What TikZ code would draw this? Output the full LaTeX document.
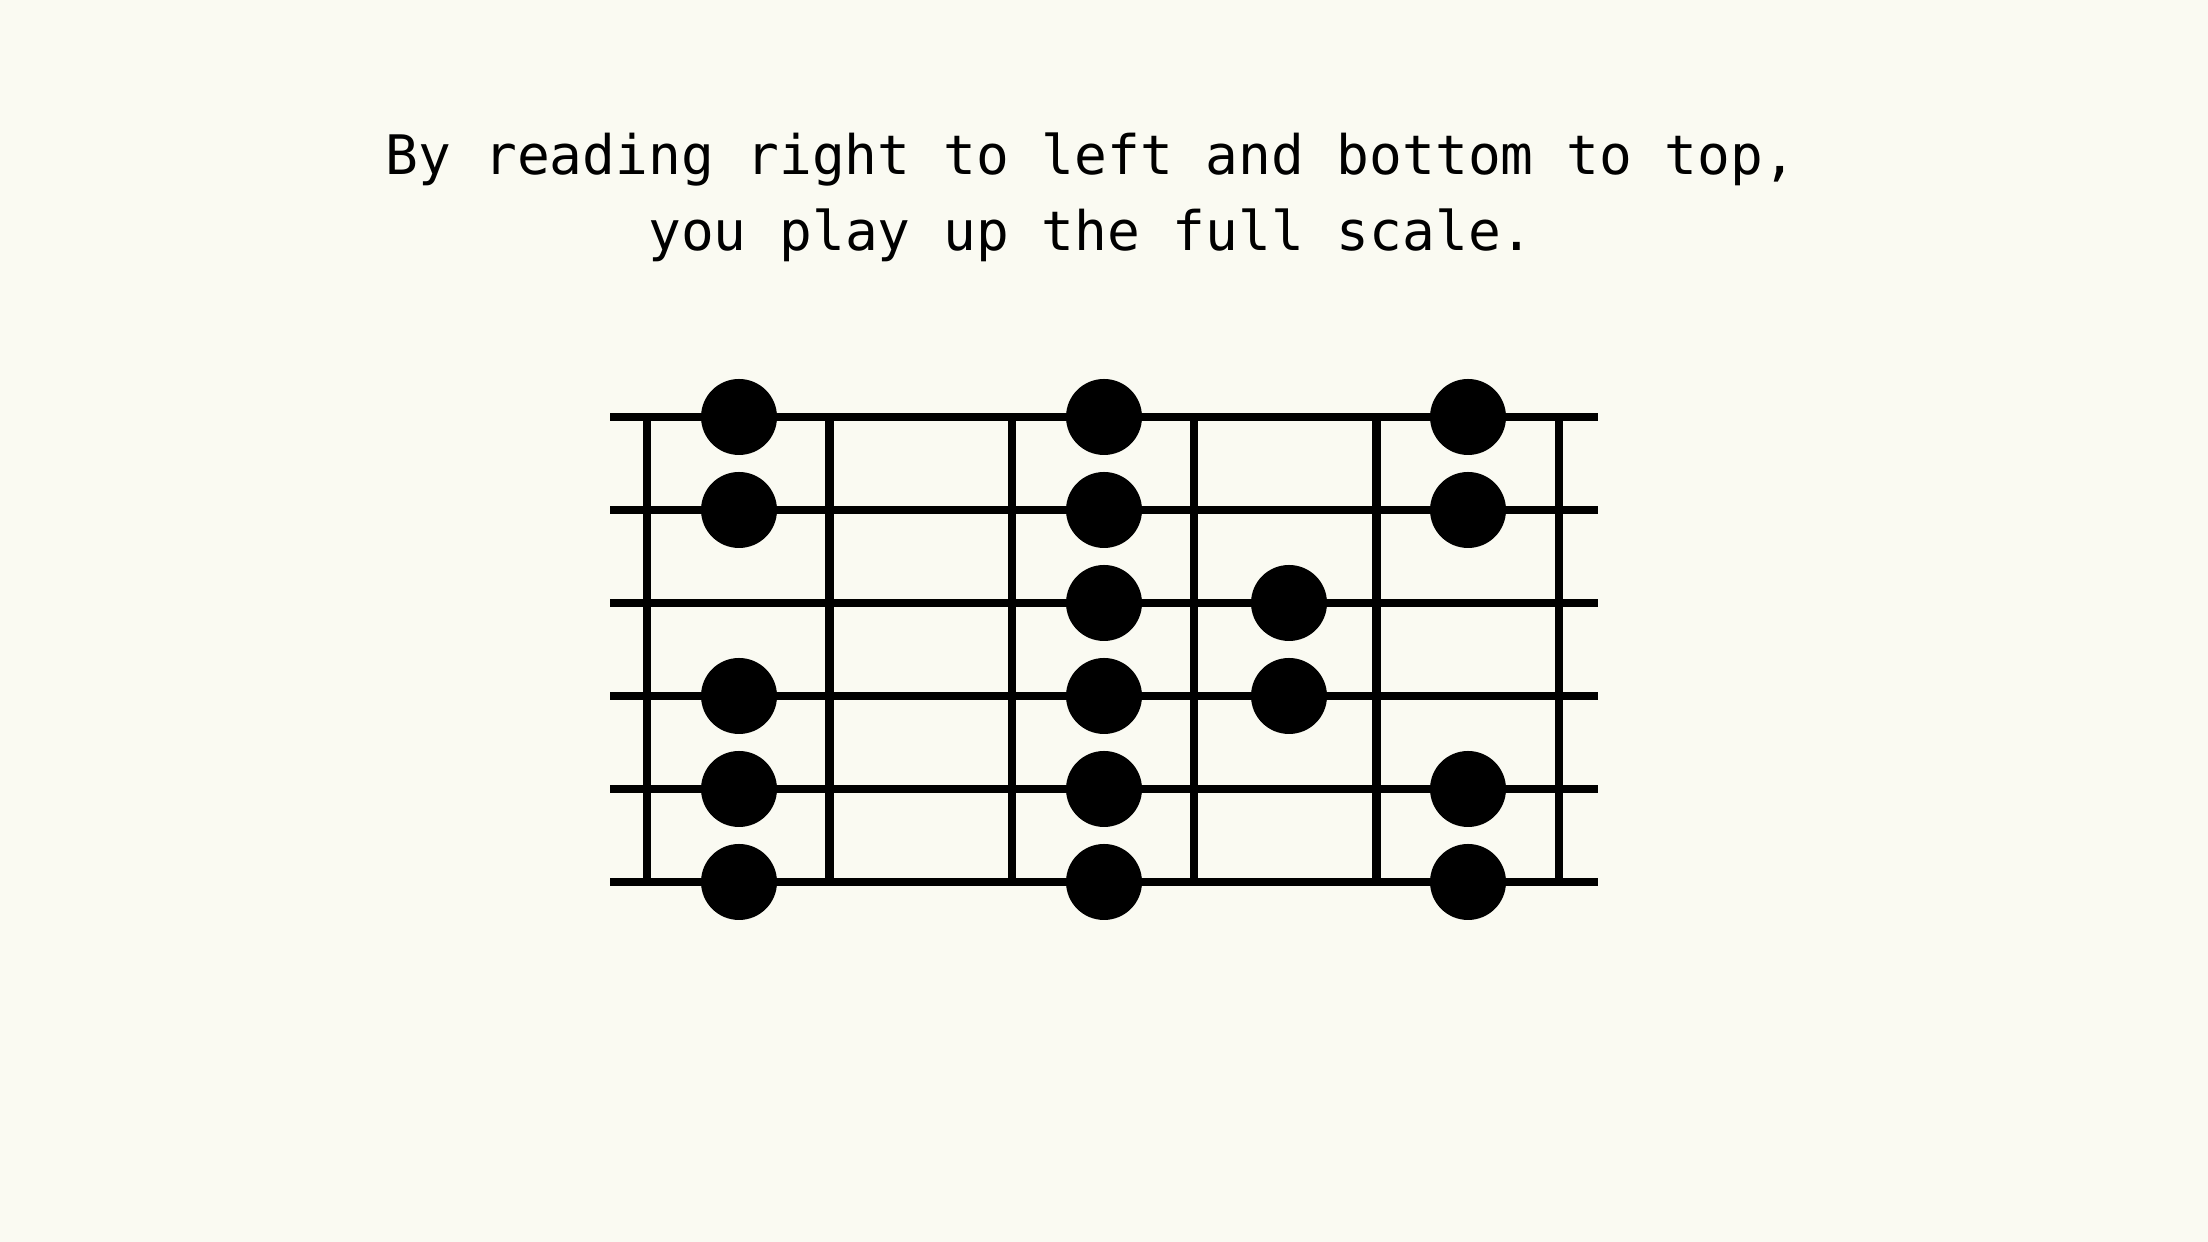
\documentclass[tikz,border=0pt]{standalone}
\usepackage{fontspec}
\setmonofont{DejaVu Sans Mono}
\usetikzlibrary{positioning}
\definecolor{paper}{RGB}{250, 250, 242}
\definecolor{ink}{RGB}{0, 0, 0}

\begin{document}
\begin{tikzpicture}[font=\ttfamily\fontsize{15.5}{21.6}\selectfont,
  wire/.style={line width=2.4pt, draw=ink},
  note/.style={circle, fill=ink, inner sep=0pt, minimum size=0.76cm}]
  % Background
  \fill[paper] (0,0) rectangle (22.08, 12.42);
  % Caption
  \node[anchor=base] (line1) at (10.91, 10.67) {By reading right to left and bottom to top,};
  \node[anchor=base] (line2) at (10.91, 9.91) {you play up the full scale.};
  % Strings
  \foreach \s in {1,...,6}
    \draw[wire] (6.10, {8.25-0.93*(\s-1)}) -- (15.98, {8.25-0.93*(\s-1)});
  % Frets
  \foreach \f in {0,...,5}
    \draw[wire] ({6.47+1.824*\f}, 8.25) -- ({6.47+1.824*\f}, 3.60);
  % Notes: column/strings
  \foreach \x/\col/\strs in {7.39/a/{1,2,4,5,6}, 11.04/b/{1,2,3,4,5,6},
                             12.89/c/{3,4}, 14.68/d/{1,2,5,6}}
    \foreach \s in \strs
      \node[note] (n\col\s) at (\x, {8.25-0.93*(\s-1)}) {};
\end{tikzpicture}
\end{document}
